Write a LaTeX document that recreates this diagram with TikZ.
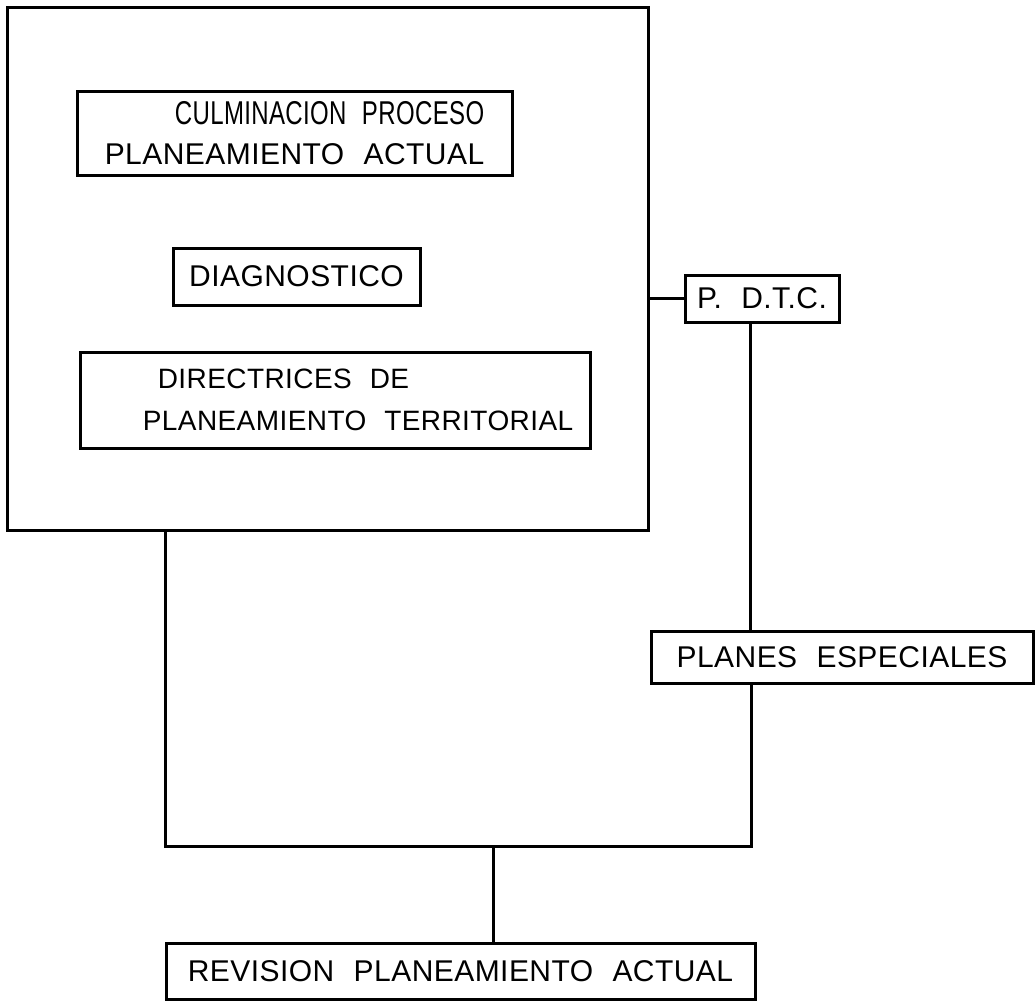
\documentclass[tikz,border=0pt]{standalone}
\usepackage{fontspec}
\setmainfont{Liberation Sans}[WordSpace=2.2, LetterSpace=1.5]
\usepackage{tikz}
\usetikzlibrary{positioning}

\begin{document}
\begin{tikzpicture}[
    x=1pt, y=-1pt,
    font=\fontsize{30}{40}\selectfont,
    panel/.style={
        draw,
        inner sep=0pt,
        align=center,
        line width=3pt
    },
    link/.style={
        line width=3pt
    }
]
\useasboundingbox (0,0) rectangle (1036,1001);

% outer frame with the three stages
\node[panel, minimum width=641, minimum height=523] (frame) at (327.5,268.5) {};

\node[panel, align=right, minimum width=435, minimum height=84] (culm) at (294.5,133)
    {\scalebox{0.8}[1.1]{CULMINACION PROCESO}\\PLANEAMIENTO ACTUAL};

\node[panel, minimum width=247, minimum height=57] (diag) at (296.5,276.5) {DIAGNOSTICO};

\node[panel, align=left, font=\fontsize{28}{42}\selectfont, minimum width=510, minimum height=96] (direc) at (335,400)
    {\hspace*{61pt}DIRECTRICES DE\\\hspace*{46pt}PLANEAMIENTO TERRITORIAL};

% side branch
\node[panel, minimum width=154, minimum height=47] (pdtc) at (762,298.5) {P. D.T.C.};

\node[panel, minimum width=382, minimum height=52] (planes) at (842,657) {PLANES ESPECIALES};

\node[panel, minimum width=589, minimum height=56] (revision) at (460.5,971) {REVISION PLANEAMIENTO ACTUAL};

\coordinate (loopL) at (165,846);
\coordinate (loopR) at (751,846);
\coordinate (join) at (493,846);

\draw[link] (frame.east |- pdtc.west) -- (pdtc.west);
\draw[link] ([xshift=-12pt]pdtc.south) -- ([xshift=-12pt]pdtc.south |- planes.north);
\draw[link] (frame.south -| loopL) -- (loopL) -- (loopR) -- (loopR |- planes.south);
\draw[link] (join) -- (join |- revision.north);

\end{tikzpicture}
\end{document}
